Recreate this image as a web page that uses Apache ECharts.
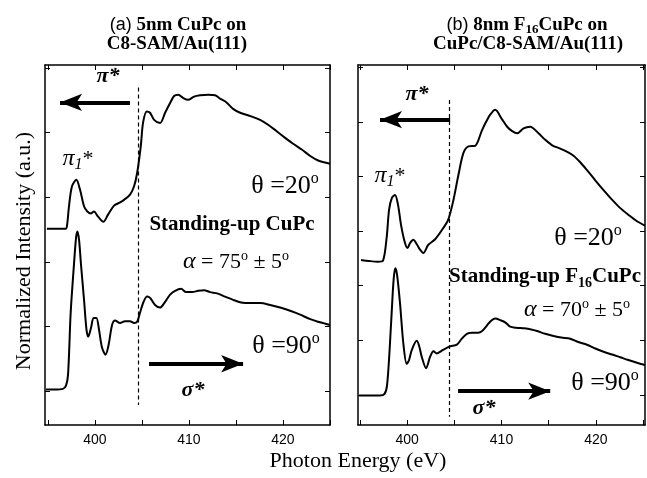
<!DOCTYPE html>
<html>
<head>
<meta charset="utf-8">
<script src="https://cdn.jsdelivr.net/npm/echarts@6/dist/echarts.min.js"></script>
<style>html,body{margin:0;padding:0;background:#fff}</style>
</head>
<body>
<div id="main" style="width:647px;height:478px"></div>
<script>
// photon energy (eV) / normalized intensity (a.u., y tick spacing = 1)
// (a) 5nm CuPc, theta = 20
var a20E = [394.9, 395.8, 396.9, 397.05, 397.25, 397.57, 398.03, 398.42, 398.85, 399.2, 399.6, 399.9, 400.34, 400.9, 401.4, 402.04, 402.68, 403.1, 403.74, 404.17, 404.5, 404.88, 405.13, 405.52, 405.87, 406.3, 406.93, 407.47, 408.0, 408.42, 408.88, 409.38, 409.91, 410.55, 411.19, 412.04, 412.79, 413.3, 414.0, 414.7, 415.45, 416.7, 417.57, 418.46, 419.27, 420.23, 421.08, 422.0, 422.9, 423.74, 425.0];
var a20I = [2.51, 2.51, 2.51, 2.57, 2.86, 3.17, 3.27, 3.12, 2.86, 2.78, 2.75, 2.78, 2.70, 2.62, 2.73, 2.87, 2.92, 2.96, 3.04, 3.17, 3.38, 3.79, 4.16, 4.33, 4.31, 4.20, 4.15, 4.31, 4.46, 4.57, 4.59, 4.54, 4.51, 4.56, 4.58, 4.59, 4.58, 4.53, 4.47, 4.37, 4.31, 4.25, 4.20, 4.12, 4.03, 3.92, 3.83, 3.74, 3.64, 3.57, 3.52];
// (a) theta = 90
var a90E = [394.8, 395.76, 396.6, 396.93, 397.15, 397.43, 397.79, 398.0, 398.14, 398.32, 398.53, 398.85, 399.11, 399.3, 399.6, 399.86, 400.16, 400.44, 400.76, 401.14, 401.46, 401.83, 402.15, 402.68, 403.2, 403.74, 404.17, 404.5, 404.8, 405.18, 405.55, 405.87, 406.4, 406.93, 407.47, 408.0, 408.53, 409.17, 409.7, 410.34, 410.98, 411.61, 412.25, 413.0, 413.85, 414.7, 415.55, 416.5, 417.57, 418.64, 419.7, 420.76, 421.83, 422.9, 423.74, 424.5, 425.0];
var a90I = [0.02, 0.02, 0.03, 0.08, 0.25, 1.21, 1.98, 2.37, 2.47, 2.34, 1.95, 1.41, 0.95, 0.84, 0.98, 1.13, 1.13, 0.95, 0.67, 0.56, 0.71, 1.02, 1.09, 1.05, 1.08, 1.08, 1.05, 1.07, 1.21, 1.38, 1.46, 1.44, 1.33, 1.29, 1.38, 1.49, 1.55, 1.58, 1.53, 1.53, 1.55, 1.56, 1.53, 1.51, 1.46, 1.41, 1.37, 1.36, 1.36, 1.33, 1.29, 1.24, 1.18, 1.11, 1.07, 1.04, 1.02];
// (b) 8nm F16CuPc, theta = 20
var b20E = [395.12, 396.07, 396.92, 397.45, 397.84, 398.09, 398.4, 398.72, 399.04, 399.36, 399.78, 400.05, 400.31, 400.66, 401.06, 401.37, 401.72, 402.25, 402.97, 403.85, 404.38, 404.91, 405.44, 405.97, 406.5, 407.2, 407.92, 408.37, 408.8, 409.33, 410.04, 410.6, 411.13, 411.66, 412.33, 413.04, 413.92, 414.63, 415.37, 416.22, 416.96, 417.63, 418.34, 419.08, 419.93, 420.81, 421.73, 422.58, 423.43, 424.35, 425.2];
var b20I = [2.47, 2.45, 2.44, 2.46, 2.89, 3.39, 3.61, 3.66, 3.48, 3.11, 2.78, 2.69, 2.78, 2.84, 2.75, 2.66, 2.60, 2.75, 2.85, 3.06, 3.22, 3.57, 4.03, 4.43, 4.55, 4.56, 4.84, 5.0, 5.13, 5.22, 5.05, 4.91, 4.83, 4.79, 4.88, 4.91, 4.79, 4.67, 4.57, 4.51, 4.45, 4.38, 4.26, 4.11, 3.93, 3.75, 3.57, 3.42, 3.30, 3.18, 3.10];
// (b) theta = 90
var b90E = [394.91, 396.07, 397.13, 397.61, 397.88, 398.19, 398.48, 398.62, 398.76, 398.94, 399.25, 399.6, 399.96, 400.21, 400.49, 401.02, 401.27, 401.55, 402.01, 402.44, 402.79, 403.15, 403.85, 404.56, 405.27, 405.8, 406.33, 406.89, 407.53, 407.95, 408.45, 408.9, 409.36, 409.86, 410.39, 410.92, 411.56, 412.4, 413.15, 413.78, 414.63, 415.51, 416.33, 417.28, 418.13, 419.05, 419.93, 420.81, 421.73, 422.58, 423.43, 424.35, 425.2];
var b90I = [-0.01, -0.01, -0.01, 0.02, 0.18, 0.95, 1.87, 2.20, 2.32, 2.20, 1.68, 0.95, 0.57, 0.64, 0.82, 0.99, 0.90, 0.70, 0.49, 0.70, 0.80, 0.76, 0.83, 0.89, 0.92, 1.03, 1.12, 1.14, 1.14, 1.17, 1.27, 1.36, 1.40, 1.37, 1.33, 1.25, 1.23, 1.22, 1.20, 1.17, 1.12, 1.08, 1.05, 1.03, 0.97, 0.92, 0.85, 0.79, 0.74, 0.69, 0.64, 0.59, 0.55];

var xTicks = [395, 400, 405, 410, 415, 420, 425];
var xLabels = [400, 410, 420];
var yTicksA = [0, 1, 2, 3, 4, 5];
var yTicksB = [0, 1, 2, 3, 4, 5, 6];

// pi*/sigma* edge (dashed) and arrows
var edgeA = 404.6, edgeB = 404.45;

var SERIF = "'Liberation Serif', 'Times New Roman', serif";
var SANS = "'Liberation Sans', Arial, sans-serif";

function zip(xs, ys) {
  return xs.map(function (x, i) { return [x, ys[i]]; });
}

function xAx(grid, min, max, pos) {
  return {
    gridIndex: grid, type: "value", min: min, max: max, position: pos,
    axisLine: { onZero: false, lineStyle: { color: "#000", width: 1.5 } },
    axisTick: { inside: true, length: 5, customValues: xTicks, lineStyle: { color: "#000", width: 1 } },
    axisLabel: pos == "bottom"
      ? { customValues: xLabels, color: "#000", fontFamily: SANS, fontSize: 14, margin: 8 }
      : { show: false },
    splitLine: { show: false }
  };
}
function yAx(grid, min, max, pos, ticks) {
  return {
    gridIndex: grid, type: "value", min: min, max: max, position: pos,
    axisLine: { show: true, onZero: false, lineStyle: { color: "#000", width: 1.5 } },
    axisTick: { show: true, inside: true, length: 5, customValues: ticks, lineStyle: { color: "#000", width: 1 } },
    axisLabel: { show: false },
    splitLine: { show: false }
  };
}

function arrow(x1, x2, y) {
  return [
    { coord: [x1, y], symbol: "none", lineStyle: { type: "solid", width: 4, color: "#000" } },
    { coord: [x2, y], symbol: "arrow", symbolSize: [13, 22] }
  ];
}
function dash(x, y1, y2) {
  return [
    { coord: [x, y1], symbol: "none", lineStyle: { type: [4, 3], width: 1.2, color: "#000" } },
    { coord: [x, y2], symbol: "none" }
  ];
}

function curve(data, xi, yi, marks) {
  var s = {
    type: "line", xAxisIndex: xi, yAxisIndex: yi, data: data,
    showSymbol: false, smooth: 0.3, silent: true,
    lineStyle: { color: "#000", width: 2 }
  };
  if (marks) {
    s.markLine = { silent: true, animation: false, label: { show: false }, data: marks };
  }
  return s;
}

var degRich = {
  t: { fontFamily: SERIF, fontSize: 26, lineHeight: 30, fill: "#000" },
  sup: { fontFamily: SERIF, fontSize: 16, lineHeight: 16, verticalAlign: "top", fill: "#000" }
};
var alphaRich = {
  a: { fontFamily: SERIF, fontSize: 24, fontStyle: "italic", lineHeight: 26 },
  t: { fontFamily: SERIF, fontSize: 22, lineHeight: 26 },
  sup: { fontFamily: SERIF, fontSize: 14, lineHeight: 14, verticalAlign: "top" }
};
var piRich = {
  p: { fontFamily: SERIF, fontSize: 24, fontStyle: "italic", lineHeight: 28 },
  sub: { fontFamily: SERIF, fontSize: 16, fontStyle: "italic", lineHeight: 16, verticalAlign: "bottom" },
  s: { fontFamily: SERIF, fontSize: 22, lineHeight: 28 }
};
var titleRich = {
  s: { fontFamily: SANS, fontSize: 18, lineHeight: 22 },
  b: { fontFamily: SERIF, fontSize: 19, fontWeight: "bold", lineHeight: 22 },
  sub: { fontFamily: SERIF, fontSize: 13, fontWeight: "bold", lineHeight: 12, verticalAlign: "bottom" }
};
var standRich = {
  b: { fontFamily: SERIF, fontSize: 21, fontWeight: "bold", lineHeight: 26 },
  sub: { fontFamily: SERIF, fontSize: 14, fontWeight: "bold", lineHeight: 14, verticalAlign: "bottom" }
};

function txt(x, y, text, rich, extra, rot) {
  var st = { text: text, align: "center", verticalAlign: "middle", fill: "#000", fontFamily: SERIF };
  if (rich) st.rich = rich;
  for (var k in extra) st[k] = extra[k];
  return { type: "text", x: x, y: y, rotation: rot || 0, style: st, silent: true };
}

var chart = echarts.init(document.getElementById("main"), null, { renderer: "canvas" });
chart.setOption({
  animation: false,
  backgroundColor: "#fff",
  grid: [
    { left: 45, top: 65, width: 285, height: 360 },
    { left: 358, top: 65, width: 287, height: 360 }
  ],
  xAxis: [
    xAx(0, 394.7, 425, "bottom"), xAx(0, 394.7, 425, "top"),
    xAx(1, 394.8, 425.2, "bottom"), xAx(1, 394.8, 425.2, "top")
  ],
  yAxis: [
    yAx(0, -0.53, 5.05, "left", yTicksA), yAx(0, -0.53, 5.05, "right", yTicksA),
    yAx(1, -0.55, 6.04, "left", yTicksB), yAx(1, -0.55, 6.04, "right", yTicksB)
  ],
  series: [
    curve(zip(a20E, a20I), 0, 0, [dash(edgeA, 4.70, -0.22), arrow(403.74, 396.3, 4.47)]),
    curve(zip(a90E, a90I), 0, 0, [arrow(405.76, 415.76, 0.42)]),
    curve(zip(b20E, b20I), 2, 2, [dash(edgeB, 5.40, -0.40), arrow(404.56, 397.13, 5.04)]),
    curve(zip(b90E, b90I), 2, 2, [arrow(405.4, 415.16, 0.07)])
  ],
  graphic: [
    txt(178, 25, "{s|(a)}{b| 5nm CuPc on}", titleRich),
    txt(177, 44, "C8-SAM/Au(111)", null, { fontSize: 19, fontWeight: "bold" }),
    txt(527, 25, "{s|(b)}{b| 8nm F}{sub|16}{b|CuPc on}", titleRich),
    txt(528, 44, "CuPc/C8-SAM/Au(111)", null, { fontSize: 19, fontWeight: "bold" }),

    txt(24, 251, "Normalized Intensity (a.u.)", null, { fontSize: 22 }, Math.PI / 2),
    txt(358, 461, "Photon Energy (eV)", null, { fontSize: 22 }),

    // panel (a)
    txt(108, 76, "π*", null, { fontSize: 22, fontWeight: "bold", fontStyle: "italic" }),
    txt(78, 159, "{p|π}{sub|1}{s|*}", piRich),
    txt(285, 186, "{t|θ =20}{sup|o}", degRich),
    txt(232, 225, "Standing-up CuPc", null, { fontSize: 21, fontWeight: "bold" }),
    txt(236, 262, "{a|α}{t| = 75}{sup|o}{t| ± 5}{sup|o}", alphaRich),
    txt(286, 346, "{t|θ =90}{sup|o}", degRich),
    txt(193, 390, "σ*", null, { fontSize: 22, fontWeight: "bold", fontStyle: "italic" }),

    // panel (b)
    txt(417, 94, "π*", null, { fontSize: 22, fontWeight: "bold", fontStyle: "italic" }),
    txt(390, 176, "{p|π}{sub|1}{s|*}", piRich),
    txt(588, 238, "{t|θ =20}{sup|o}", degRich),
    txt(545, 277, "{b|Standing-up F}{sub|16}{b|CuPc}", standRich),
    txt(577, 310, "{a|α}{t| = 70}{sup|o}{t| ± 5}{sup|o}", alphaRich),
    txt(605, 383, "{t|θ =90}{sup|o}", degRich),
    txt(484, 408, "σ*", null, { fontSize: 22, fontWeight: "bold", fontStyle: "italic" })
  ]
});
</script>
</body>
</html>
